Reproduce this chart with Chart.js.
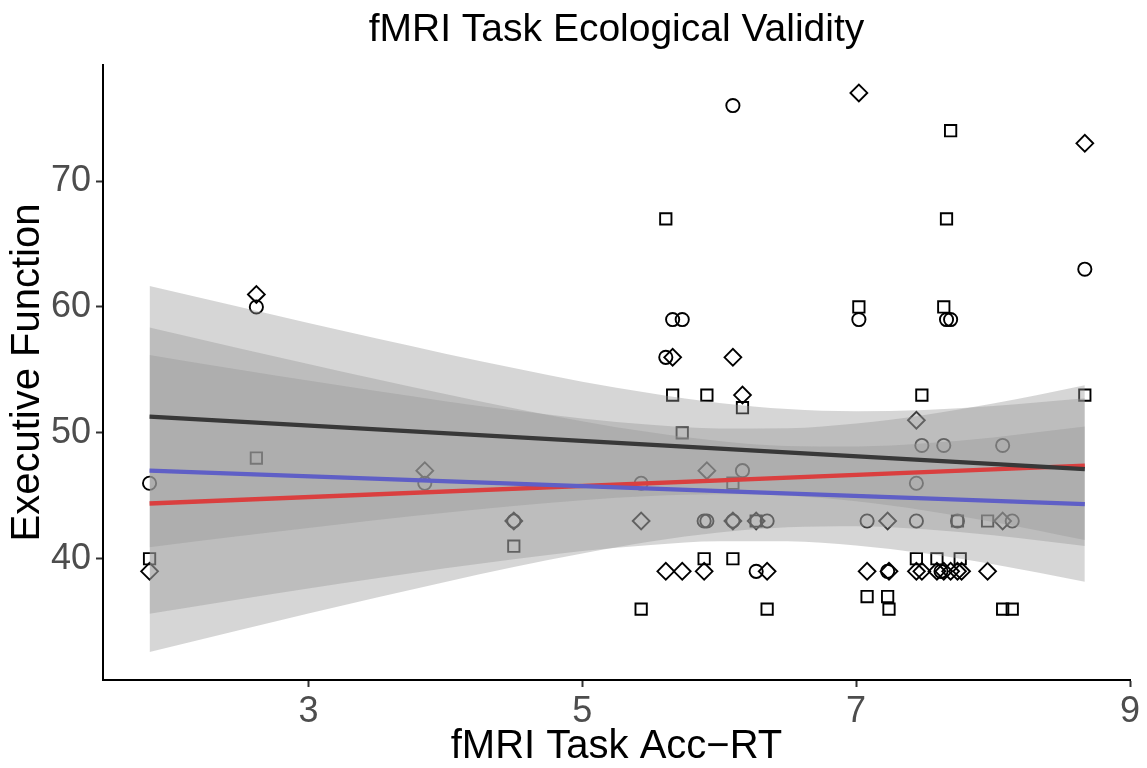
<!DOCTYPE html>
<html>
<head>
<meta charset="utf-8">
<script src="https://cdn.jsdelivr.net/npm/chart.js@4/dist/chart.umd.min.js"></script>
<style>
  html, body { margin: 0; padding: 0; background: #ffffff; }
  #c { display: block; }
</style>
</head>
<body>
<canvas id="c" width="1147" height="768" style="width:1147px;height:768px"></canvas>
<script>
// ---- data ----
const titleText = 'fMRI Task Ecological Validity';
const xTitle = 'fMRI Task Acc\u2212RT';
const yTitle = 'Executive Function';
const xTicks = [3, 5, 7, 9];
const yTicks = [40, 50, 60, 70];

const circleX = [1.84, 2.62, 3.85, 4.50, 5.43, 5.61, 5.66, 5.73, 5.89, 5.91, 6.10, 6.10, 6.17, 6.27, 6.35, 7.02, 7.08, 7.23, 7.44, 7.44, 7.48, 7.62, 7.64, 7.66, 7.69, 7.74, 8.07, 8.14, 8.67];
const circleY = [46, 60, 46, 43, 46, 56, 59, 59, 43, 43, 76, 43, 47, 39, 43, 59, 43, 39, 46, 43, 49, 39, 49, 59, 59, 43, 49, 43, 63];

const squareX = [1.84, 2.62, 4.50, 5.43, 5.61, 5.66, 5.73, 5.91, 5.89, 6.10, 6.10, 6.17, 6.27, 6.35, 7.02, 7.08, 7.23, 7.24, 7.44, 7.48, 7.59, 7.64, 7.66, 7.69, 7.74, 7.76, 7.96, 8.07, 8.14, 8.67];
const squareY = [40, 48, 41, 36, 67, 53, 50, 53, 40, 46, 40, 52, 43, 36, 60, 37, 37, 36, 40, 53, 40, 60, 67, 74, 43, 40, 43, 36, 36, 53];

const diamondX = [1.84, 2.62, 3.85, 4.50, 5.43, 5.61, 5.66, 5.73, 5.89, 5.91, 6.10, 6.10, 6.17, 6.27, 6.35, 7.02, 7.08, 7.23, 7.24, 7.44, 7.44, 7.48, 7.59, 7.64, 7.69, 7.74, 7.77, 7.96, 8.07, 8.67];
const diamondY = [39, 61, 47, 43, 43, 39, 56, 39, 39, 47, 56, 43, 53, 43, 39, 77, 39, 43, 39, 51, 39, 39, 39, 39, 39, 39, 39, 39, 43, 73];

// fitted lines (end points)
const lineX = [1.84, 8.67];
const blackLine = [51.29, 47.12];
const blueLine = [47.00, 44.34];
const redLine = [44.39, 47.40];

// confidence bands
const bandX = [1.84, 2.5, 3, 3.5, 4, 4.5, 5, 5.5, 6, 6.5, 7, 7.5, 8, 8.67];
const blackUpper = [61.67, 59.99, 58.72, 57.49, 56.29, 55.15, 54.07, 53.14, 52.38, 51.90, 51.72, 51.82, 52.13, 52.74];
const blackLower = [40.91, 41.80, 42.44, 43.07, 43.65, 44.19, 44.65, 44.98, 45.12, 45.00, 44.56, 43.84, 42.93, 41.50];
const blueUpper  = [58.37, 56.70, 55.47, 54.25, 53.08, 51.96, 50.93, 50.04, 49.36, 48.96, 48.92, 49.17, 49.64, 50.50];
const blueLower  = [35.63, 36.78, 37.63, 38.45, 39.24, 39.96, 40.61, 41.10, 41.40, 41.40, 41.06, 40.43, 39.56, 38.18];
const redUpper   = [56.19, 55.02, 54.16, 53.32, 52.52, 51.79, 51.14, 50.64, 50.35, 50.37, 50.74, 51.42, 52.33, 53.79];
const redLower   = [32.59, 34.34, 35.65, 36.92, 38.16, 39.34, 40.42, 41.37, 42.09, 42.51, 42.59, 42.34, 41.87, 41.01];

// ---- build chart ----
const pts = (xs, ys) => xs.map((x, i) => ({ x: x, y: ys[i] }));
const FONT = 'Liberation Sans, Arial, Helvetica, sans-serif';
const bandFill = 'rgba(153,153,153,0.4)';

function scatterSet(xs, ys, style, r) {
  return {
    type: 'scatter', data: pts(xs, ys), order: 3,
    pointStyle: style, pointRadius: r, pointHoverRadius: r,
    borderColor: '#000000', backgroundColor: 'rgba(0,0,0,0)', pointBorderWidth: 1.9, borderWidth: 1.9
  };
}
function bandSet(ys, fillNext) {
  return {
    type: 'line', data: pts(bandX, ys), order: 2,
    pointRadius: 0, borderWidth: 0, borderColor: 'rgba(0,0,0,0)',
    backgroundColor: bandFill, fill: fillNext ? '+1' : false,
    cubicInterpolationMode: 'monotone'
  };
}
function lineSet(ys, color) {
  return {
    type: 'line', data: pts(lineX, ys), order: 1,
    pointRadius: 0, borderWidth: 4.4, borderColor: color, fill: false, borderCapStyle: 'butt'
  };
}

const datasets = [
  scatterSet(circleX, circleY, 'circle', 6.6),
  scatterSet(squareX, squareY, 'rect', 8.0),
  scatterSet(diamondX, diamondY, 'rectRot', 8.4),
  bandSet(blackUpper, true), bandSet(blackLower, false),
  bandSet(blueUpper, true), bandSet(blueLower, false),
  bandSet(redUpper, true), bandSet(redLower, false),
  lineSet(blackLine, '#383838'),
  lineSet(blueLine, '#5f5fc6'),
  lineSet(redLine, '#da3f3f')
];

new Chart(document.getElementById('c'), {
  data: { datasets: datasets },
  options: {
    responsive: false,
    animation: false,
    events: [],
    layout: { padding: { left: 0, right: 17, top: 0, bottom: 0 } },
    plugins: {
      legend: { display: false },
      tooltip: { enabled: false },
      title: {
        display: true, text: titleText, fullSize: false,
        color: '#000000', font: { family: FONT, size: 39, weight: 'normal', lineHeight: 1.2 },
        padding: { top: 7, bottom: 11.2 }
      }
    },
    scales: {
      x: {
        type: 'linear', min: 1.5, max: 9.0,
        afterBuildTicks: s => { s.ticks = xTicks.map(v => ({ value: v })); },
        afterFit: s => { s.height = 88; },
        grid: { drawOnChartArea: false, tickLength: 7, tickColor: '#333333', tickWidth: 2 },
        border: { display: true, color: '#000000', width: 2 },
        ticks: { color: '#4d4d4d', font: { family: FONT, size: 36 }, padding: 3, maxRotation: 0 },
        title: { display: true, text: xTitle, color: '#000000', font: { family: FONT, size: 40, lineHeight: 1 }, padding: { top: 0, bottom: 1 } }
      },
      y: {
        type: 'linear', min: 30.37, max: 79.22,
        afterBuildTicks: s => { s.ticks = yTicks.map(v => ({ value: v })); },
        afterFit: s => { s.width = 103; },
        grid: { drawOnChartArea: false, tickLength: 7, tickColor: '#333333', tickWidth: 2 },
        border: { display: true, color: '#000000', width: 2 },
        ticks: { color: '#4d4d4d', font: { family: FONT, size: 36 }, padding: 5 },
        title: { display: true, text: yTitle, color: '#000000', font: { family: FONT, size: 40, lineHeight: 1 }, padding: { top: 8, bottom: 0 } }
      }
    }
  }
});
</script>
</body>
</html>
